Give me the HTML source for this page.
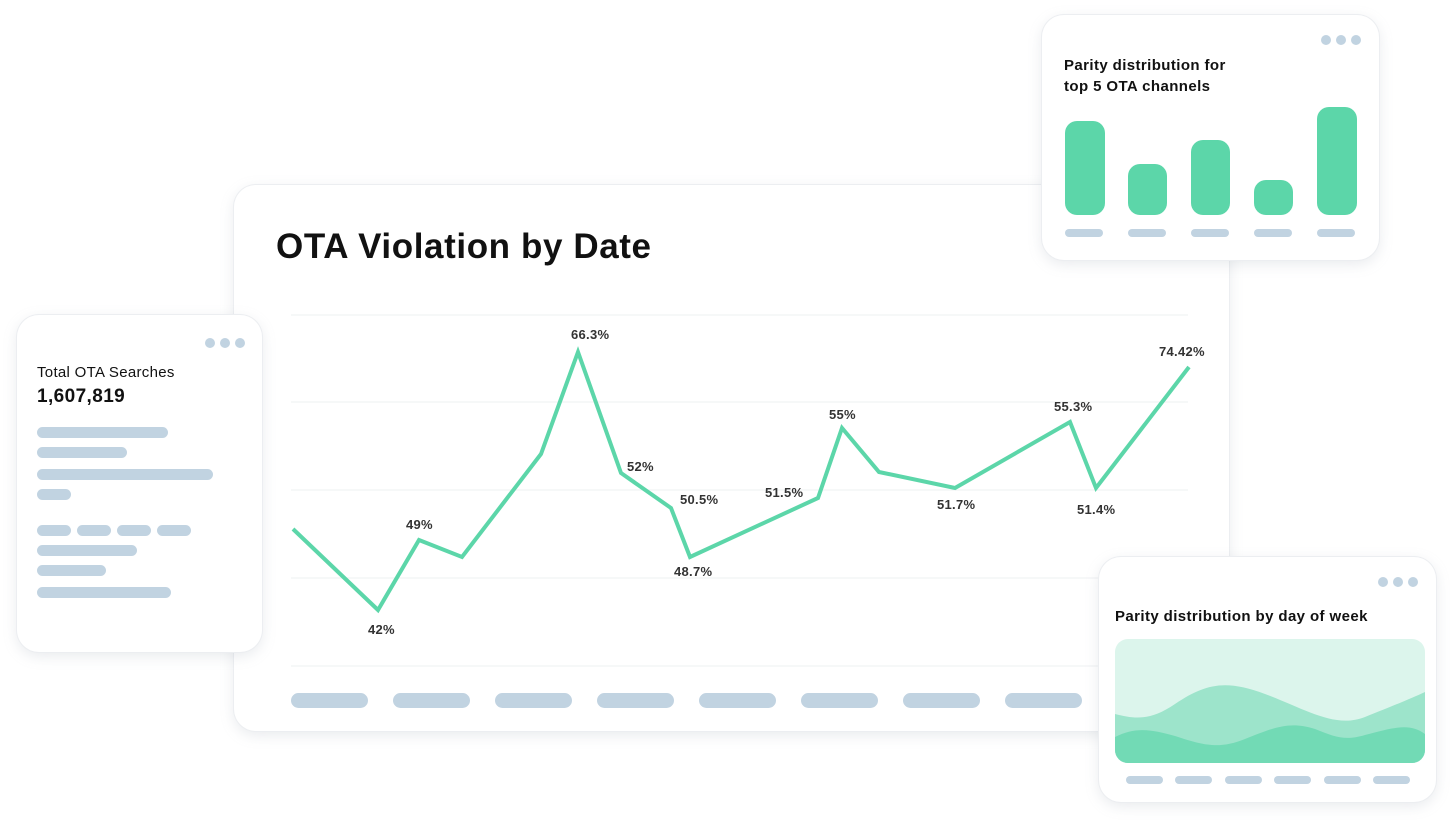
<!DOCTYPE html>
<html><head><meta charset="utf-8"><style>
body{margin:0;width:1453px;height:821px;background:#fff;position:relative;overflow:hidden;font-family:"Liberation Sans",sans-serif}
.card{position:absolute;background:#fff;border-radius:22px;box-shadow:0 0 0 1px #eceef1,0 4px 14px rgba(150,160,175,.22)}
.pill{position:absolute;background:#c1d3e1;border-radius:8px}
.dot{position:absolute;width:10px;height:10px;border-radius:50%;background:#c1d3e1}
.lbl{position:absolute;font-size:13px;font-weight:bold;color:#333;letter-spacing:0.3px}
</style></head><body>

<div class="card" style="left:234px;top:185px;width:995px;height:546px">
<div style="position:absolute;left:42px;top:42px;font-size:35px;font-weight:bold;color:#111;letter-spacing:0.6px">OTA Violation by Date</div>
</div>
<svg style="position:absolute;left:0;top:0" width="1453" height="821">
<g stroke="#eef0f2" stroke-width="1">
<line x1="291" y1="315" x2="1188" y2="315"/><line x1="291" y1="402" x2="1188" y2="402"/><line x1="291" y1="490" x2="1188" y2="490"/><line x1="291" y1="578" x2="1188" y2="578"/><line x1="291" y1="666" x2="1188" y2="666"/>
</g>
<polyline fill="none" stroke="#5cd6a9" stroke-width="4" stroke-linejoin="miter" points="293,529 378,610 419,540 462,557 541,454 578,352 621,473 671,508 690,557 818,498 842,428 879,472 955,488 1070,422 1096,488 1189,367"/>
</svg>
<div class="pill" style="left:291px;top:693px;width:77px;height:15px"></div>
<div class="pill" style="left:393px;top:693px;width:77px;height:15px"></div>
<div class="pill" style="left:495px;top:693px;width:77px;height:15px"></div>
<div class="pill" style="left:597px;top:693px;width:77px;height:15px"></div>
<div class="pill" style="left:699px;top:693px;width:77px;height:15px"></div>
<div class="pill" style="left:801px;top:693px;width:77px;height:15px"></div>
<div class="pill" style="left:903px;top:693px;width:77px;height:15px"></div>
<div class="pill" style="left:1005px;top:693px;width:77px;height:15px"></div>

<div class="lbl" style="left:571px;top:327px">66.3%</div>
<div class="lbl" style="left:406px;top:517px">49%</div>
<div class="lbl" style="left:368px;top:622px">42%</div>
<div class="lbl" style="left:627px;top:459px">52%</div>
<div class="lbl" style="left:680px;top:492px">50.5%</div>
<div class="lbl" style="left:674px;top:564px">48.7%</div>
<div class="lbl" style="left:765px;top:485px">51.5%</div>
<div class="lbl" style="left:829px;top:407px">55%</div>
<div class="lbl" style="left:937px;top:497px">51.7%</div>
<div class="lbl" style="left:1054px;top:399px">55.3%</div>
<div class="lbl" style="left:1077px;top:502px">51.4%</div>
<div class="lbl" style="left:1159px;top:344px">74.42%</div>

<div class="card" style="left:17px;top:315px;width:245px;height:337px">
<div class="dot" style="left:188px;top:23px"></div><div class="dot" style="left:203px;top:23px"></div><div class="dot" style="left:218px;top:23px"></div>
<div style="position:absolute;left:20px;top:49px;font-size:15px;color:#111;letter-spacing:0.3px">Total OTA Searches</div>
<div style="position:absolute;left:20px;top:71px;font-size:19px;font-weight:bold;color:#111;letter-spacing:0.4px">1,607,819</div>
<div class="pill" style="left:20px;top:112px;width:131px;height:11px"></div>
<div class="pill" style="left:20px;top:132px;width:90px;height:11px"></div>
<div class="pill" style="left:20px;top:154px;width:176px;height:11px"></div>
<div class="pill" style="left:20px;top:174px;width:34px;height:11px"></div>
<div class="pill" style="left:20px;top:210px;width:34px;height:11px"></div>
<div class="pill" style="left:60px;top:210px;width:34px;height:11px"></div>
<div class="pill" style="left:100px;top:210px;width:34px;height:11px"></div>
<div class="pill" style="left:140px;top:210px;width:34px;height:11px"></div>
<div class="pill" style="left:20px;top:230px;width:100px;height:11px"></div>
<div class="pill" style="left:20px;top:250px;width:69px;height:11px"></div>
<div class="pill" style="left:20px;top:272px;width:134px;height:11px"></div>
</div>

<div class="card" style="left:1042px;top:15px;width:337px;height:245px">
<div class="dot" style="left:279px;top:20px"></div><div class="dot" style="left:294px;top:20px"></div><div class="dot" style="left:309px;top:20px"></div>
<div style="position:absolute;left:22px;top:40px;font-size:15px;font-weight:bold;color:#111;line-height:21px;letter-spacing:0.4px">Parity distribution for<br>top 5 OTA channels</div>
<div style="position:absolute;left:23px;top:106px;width:40px;height:94px;background:#5cd6a9;border-radius:12px"></div>
<div style="position:absolute;left:86px;top:149px;width:39px;height:51px;background:#5cd6a9;border-radius:12px"></div>
<div style="position:absolute;left:149px;top:125px;width:39px;height:75px;background:#5cd6a9;border-radius:12px"></div>
<div style="position:absolute;left:212px;top:165px;width:39px;height:35px;background:#5cd6a9;border-radius:12px"></div>
<div style="position:absolute;left:275px;top:92px;width:40px;height:108px;background:#5cd6a9;border-radius:12px"></div>
<div class="pill" style="left:23px;top:214px;width:38px;height:8px"></div>
<div class="pill" style="left:86px;top:214px;width:38px;height:8px"></div>
<div class="pill" style="left:149px;top:214px;width:38px;height:8px"></div>
<div class="pill" style="left:212px;top:214px;width:38px;height:8px"></div>
<div class="pill" style="left:275px;top:214px;width:38px;height:8px"></div>
</div>

<div class="card" style="left:1099px;top:557px;width:337px;height:245px">
<div class="dot" style="left:279px;top:20px"></div><div class="dot" style="left:294px;top:20px"></div><div class="dot" style="left:309px;top:20px"></div>
<div style="position:absolute;left:16px;top:51px;font-size:15px;font-weight:bold;color:#111;letter-spacing:0.4px">Parity distribution by day of week</div>
<svg style="position:absolute;left:16px;top:82px" width="310" height="124" viewBox="0 0 310 124">
<defs><clipPath id="c"><rect width="310" height="124" rx="13"/></clipPath></defs>
<g clip-path="url(#c)">
<rect width="310" height="124" fill="#dcf5ec"/>
<path d="M0,75 C20,80 35,82 60,65 C90,45 110,40 150,55 C190,70 220,90 250,78 C275,68 295,60 310,53 L310,124 L0,124Z" fill="#9de4cb"/>
<path d="M0,98 C20,88 35,90 60,97 C90,107 105,110 130,100 C160,88 175,82 200,90 C220,98 230,102 250,96 C280,88 295,84 310,95 L310,124 L0,124Z" fill="#72dab5"/>
</g></svg>
<div class="pill" style="left:27px;top:219px;width:37px;height:8px"></div>
<div class="pill" style="left:76px;top:219px;width:37px;height:8px"></div>
<div class="pill" style="left:126px;top:219px;width:37px;height:8px"></div>
<div class="pill" style="left:175px;top:219px;width:37px;height:8px"></div>
<div class="pill" style="left:225px;top:219px;width:37px;height:8px"></div>
<div class="pill" style="left:274px;top:219px;width:37px;height:8px"></div>
</div>
</body></html>
